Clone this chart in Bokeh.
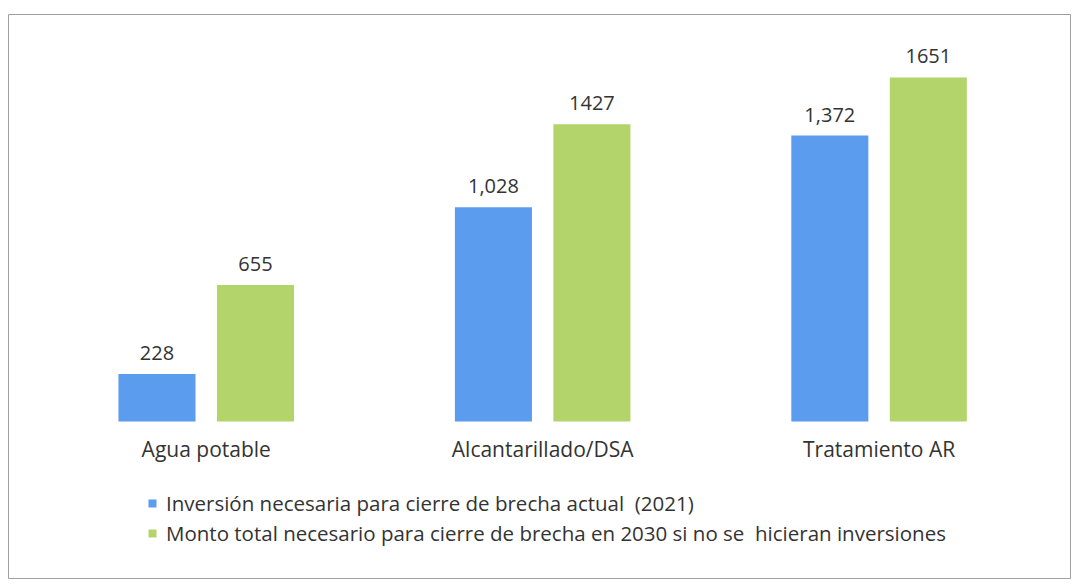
from bokeh.plotting import figure
from bokeh.models import ColumnDataSource, Legend, LegendItem, Range1d
from bokeh.core.properties import value
from bokeh.embed import file_html
from bokeh.resources import INLINE

categories = ["Agua potable", "Alcantarillado/DSA", "Tratamiento AR"]
inversion_2021 = [228, 1028, 1372]
monto_2030 = [655, 1427, 1651]
labels_2021 = ["228", "1,028", "1,372"]
labels_2030 = ["655", "1427", "1651"]
series_names = [
    "Inversión necesaria para cierre de brecha actual  (2021)",
    "Monto total necesario para cierre de brecha en 2030 si no se  hicieran inversiones",
]

BLUE = "#5b9cee"
GREEN = "#b3d46a"
TEXT = "#333333"
FONT = "Open Sans"

idx = list(range(len(categories)))
off = 0.1464
bw = 0.229
cat_y = -130

src1 = ColumnDataSource(dict(x=[i - off for i in idx], top=inversion_2021, lab=labels_2021))
src2 = ColumnDataSource(dict(x=[i + off for i in idx], top=monto_2030, lab=labels_2030))
srcc = ColumnDataSource(dict(x=idx, y=[cat_y] * len(idx), lab=categories))

p = figure(width=1072, height=584, output_backend="svg", toolbar_location=None,
           x_axis_location=None, y_axis_location=None,
           x_range=Range1d(-0.5878, 2.569), y_range=Range1d(-753, 1953),
           min_border_left=8, min_border_right=2, min_border_top=14, min_border_bottom=6)
p.xgrid.visible = False
p.ygrid.visible = False
p.outline_line_color = "#a0a0a0"
p.outline_line_width = 1
p.background_fill_color = "white"
p.border_fill_color = "white"

r1 = p.vbar(x="x", top="top", width=bw, bottom=0, source=src1, fill_color=BLUE, line_color=None)
r2 = p.vbar(x="x", top="top", width=bw, bottom=0, source=src2, fill_color=GREEN, line_color=None)

for s in (src1, src2):
    p.text(x="x", y="top", text="lab", source=s, text_align="center", text_baseline="alphabetic",
           y_offset=-21, text_font=value(FONT), text_font_size="20px", text_color=TEXT)

p.text(x="x", y="y", text="lab", source=srcc, text_align="center", text_baseline="alphabetic",
       text_font=value(FONT), text_font_size="21px", text_color=TEXT)

legend = Legend(items=[LegendItem(label=series_names[0], renderers=[r1]),
                       LegendItem(label=series_names[1], renderers=[r2])],
                location=(139, 31), orientation="vertical",
                label_text_font=FONT, label_text_font_size="20.5px", label_text_color=TEXT,
                glyph_width=10, glyph_height=10, label_height=28, label_standoff=9, spacing=2,
                padding=0, margin=0, border_line_color=None, background_fill_alpha=0)
p.add_layout(legend, "center")

open("out.html", "w").write(file_html(p, INLINE))
